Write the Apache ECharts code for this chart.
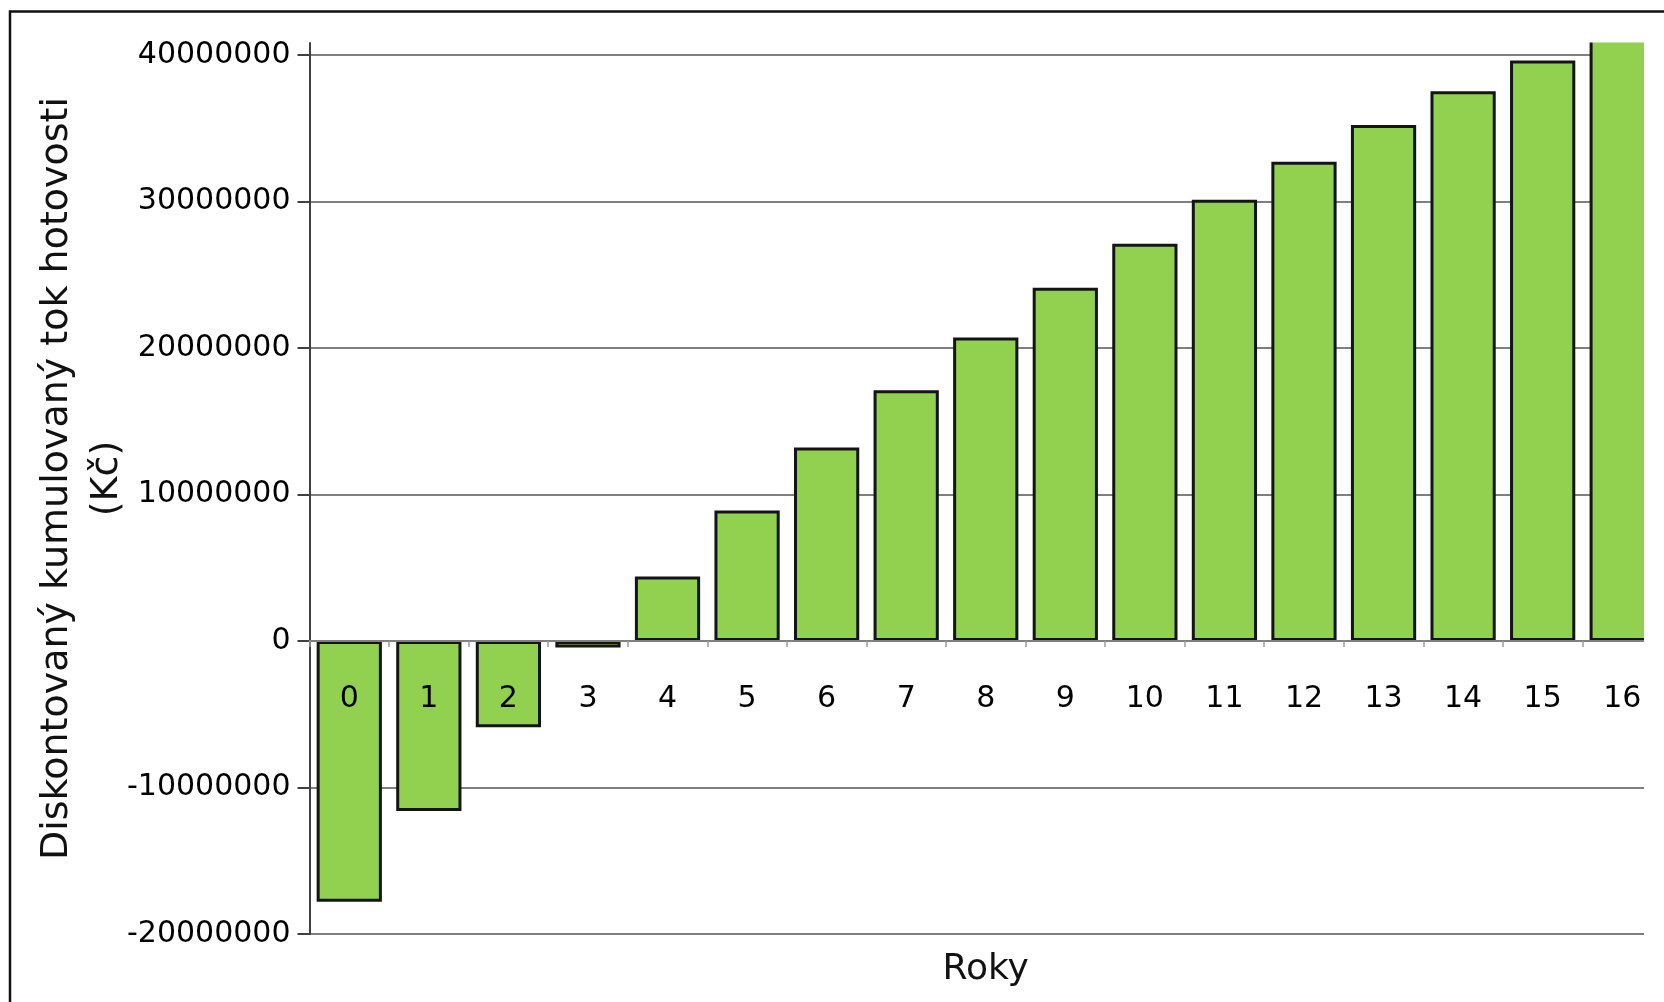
<!DOCTYPE html>
<html>
<head>
<meta charset="utf-8">
<script src="https://cdn.jsdelivr.net/npm/echarts@6/dist/echarts.min.js"></script>
<style>
  html, body { margin: 0; padding: 0; background: #ffffff; }
  #chart { width: 1664px; height: 1002px; }
</style>
</head>
<body>
<div id="chart"></div>
<script>
// Years of the project
const years = ['0', '1', '2', '3', '4', '5', '6', '7', '8', '9', '10', '11', '12', '13', '14', '15', '16'];
// Discounted cumulative cash flow per year (CZK)
const cumulativeCashFlow = [
  -17800000, -11600000, -5900000, -450000, 4400000, 8900000, 13200000, 17100000,
  20700000, 24100000, 27100000, 30100000, 32700000, 35200000, 37500000, 39600000, 41600000
];
// Value-axis tick labels
const yTicks = [-20000000, -10000000, 0, 10000000, 20000000, 30000000, 40000000];

const yTitle = 'Diskontovaný kumulovaný tok hotovosti\n(Kč)';
const xTitle = 'Roky';

const FONT = 'DejaVu Sans';
const Y_MIN = yTicks[0];
const Y_MAX = 40800000;
const GRID_TOP = 43;
const GRID_BOTTOM = 68;
const PLOT_H = 1002 - GRID_TOP - GRID_BOTTOM;
// distance from the bottom of the plot up to the zero line
const zeroLift = PLOT_H * (0 - Y_MIN) / (Y_MAX - Y_MIN);

const chart = echarts.init(document.getElementById('chart'), null, { renderer: 'canvas' });

chart.setOption({
  backgroundColor: '#ffffff',
  animation: false,
  grid: {
    left: 309.5,
    right: 2,
    top: GRID_TOP,
    bottom: GRID_BOTTOM,
    containLabel: false,
    outerBoundsMode: 'none'
  },
  xAxis: {
    type: 'category',
    data: years,
    boundaryGap: true,
    position: 'bottom',
    offset: -zeroLift,
    z: 5,
    name: xTitle,
    nameLocation: 'middle',
    nameMoveOverlap: false,
    nameGap: 311,
    nameTextStyle: { fontFamily: FONT, fontSize: 36, color: '#111111' },
    axisLine: { show: true, onZero: false, lineStyle: { color: '#808080', width: 2 } },
    axisTick: { show: true, length: 6, alignWithLabel: false, lineStyle: { color: '#9a9a9a', width: 1.5 } },
    axisLabel: { margin: 43, fontFamily: FONT, fontSize: 30, color: '#000000', interval: 0 },
    splitLine: { show: false }
  },
  yAxis: {
    type: 'value',
    min: Y_MIN,
    max: Y_MAX,
    interval: 10000000,
    name: yTitle,
    nameLocation: 'middle',
    nameRotate: 90,
    nameMoveOverlap: false,
    nameGap: 177,
    nameTextStyle: { fontFamily: FONT, fontSize: 38, color: '#111111', lineHeight: 50, padding: [0, 0, 0, 20] },
    axisLine: { show: true, lineStyle: { color: '#404040', width: 2 } },
    axisTick: { show: true, length: 12, customValues: yTicks, lineStyle: { color: '#404040', width: 2 } },
    axisLabel: {
      margin: 19,
      fontFamily: FONT,
      fontSize: 30,
      color: '#000000',
      customValues: yTicks,
      formatter: v => String(Math.round(v))
    },
    splitLine: { show: true, lineStyle: { color: '#7f7f7f', width: 2 } }
  },
  series: [{
    type: 'bar',
    data: cumulativeCashFlow,
    barCategoryGap: '18%',
    clip: false,
    itemStyle: { color: '#92d050', borderColor: '#141414', borderWidth: 3 },
    z: 2
  }],
  graphic: [
    // page trimmed above the plot and at the right edge
    { type: 'rect', z: 100, shape: { x: 311, y: 13, width: 1353, height: 29.5 }, style: { fill: '#ffffff' } },
    { type: 'rect', z: 100, shape: { x: 1644, y: 13, width: 20, height: 989 }, style: { fill: '#ffffff' } },
    // outer frame
    {
      type: 'polyline', z: 101,
      shape: { points: [[10, 1002], [10, 11.5], [1664, 11.5]] },
      style: { stroke: '#111111', lineWidth: 2.5, fill: null }
    }
  ]
});
</script>
</body>
</html>
